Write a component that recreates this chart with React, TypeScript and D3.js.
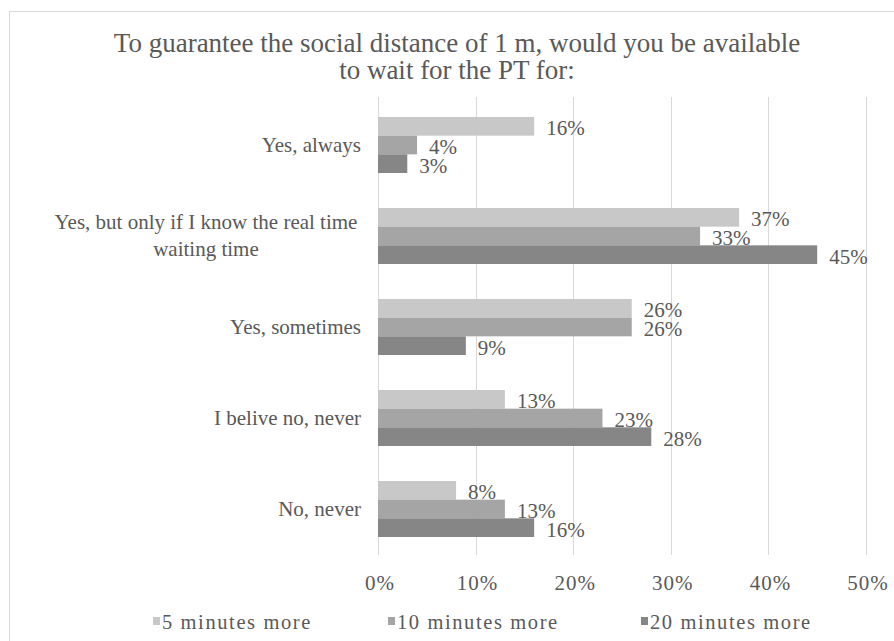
import React from "react";
import * as d3 from "d3";

// Survey answers (y categories), top to bottom
const categories = [
  "Yes, always",
  "Yes, but only if I know the real time waiting time",
  "Yes, sometimes",
  "I belive no, never",
  "No, never",
];

// Series: extra waiting time
const seriesNames = ["5 minutes more", "10 minutes more", "20 minutes more"];
const fiveMinutes = [16, 37, 26, 13, 8];
const tenMinutes = [4, 33, 26, 23, 13];
const twentyMinutes = [3, 45, 9, 28, 16];

const xTicks = [0, 10, 20, 30, 40, 50];

const titleLines = [
  "To guarantee the social distance of 1 m, would you be available",
  "to wait for the PT for:",
];

const W = 894;
const H = 641;
const FONT = "'Liberation Serif', 'Times New Roman', Times, serif";
const TEXT = "#595959";
const GRID = "#d9d9d9";
const COLORS = ["#c8c8c8", "#a5a5a5", "#868686"];

export default function App() {
  const values = [fiveMinutes, tenMinutes, twentyMinutes];

  const x = d3.scaleLinear().domain([0, 50]).range([378, 866]);
  const y = d3
    .scaleBand<string>()
    .domain(categories)
    .range([99.5, 554.5])
    .paddingInner(0.385)
    .paddingOuter(0.1925);
  const inner = d3
    .scaleBand<string>()
    .domain(seriesNames)
    .range([0, y.bandwidth()]);

  const plotTop = 97;
  const plotBottom = 555;

  // Category labels: the long label wraps onto two centred lines
  const catLabel = (c: string, i: number) => {
    const cy = (y(c) as number) + y.bandwidth() / 2;
    if (c.length > 30) {
      const lines = ["Yes, but only if I know the real time", "waiting time"];
      return (
        <g key={i} textAnchor="middle">
          {lines.map((l, li) => (
            <text key={li} x={206} y={cy - 7 + li * 27}>
              {l}
            </text>
          ))}
        </g>
      );
    }
    return (
      <text key={i} x={361} y={cy} dy="0.32em" textAnchor="end">
        {c}
      </text>
    );
  };

  const legendX = [153, 388, 641];

  return (
    <svg
      width={W}
      height={H}
      style={{ position: "absolute", left: 0, top: 0, background: "#fff" }}
    >
      <g style={{ fontFamily: FONT }}>
        <rect x={0} y={0} width={W} height={H} fill="#fff" />
        <rect
          x={9.5}
          y={11.5}
          width={W + 20}
          height={H + 20}
          fill="none"
          stroke={GRID}
          strokeWidth={1}
        />

        {/* title */}
        <g fill={TEXT} fontSize={27} textAnchor="middle">
          {titleLines.map((t, i) => (
            <text key={i} x={457} y={52 + i * 27}>
              {t}
            </text>
          ))}
        </g>

        {/* vertical gridlines */}
        <g stroke={GRID} strokeWidth={1}>
          {xTicks.map((t) => (
            <line
              key={t}
              x1={Math.round(x(t)) + 0.5}
              x2={Math.round(x(t)) + 0.5}
              y1={plotTop}
              y2={plotBottom}
            />
          ))}
        </g>

        {/* bars */}
        {seriesNames.map((s, si) => (
          <g key={s} fill={COLORS[si]}>
            {categories.map((c, ci) => (
              <rect
                key={c}
                x={x(0)}
                y={(y(c) as number) + (inner(s) as number)}
                width={x(values[si][ci]) - x(0)}
                height={inner.bandwidth()}
              />
            ))}
          </g>
        ))}

        {/* value labels */}
        <g fill={TEXT} fontSize={21}>
          {seriesNames.map((s, si) =>
            categories.map((c, ci) => (
              <text
                key={s + c}
                x={x(values[si][ci]) + 12}
                y={(y(c) as number) + (inner(s) as number) + inner.bandwidth() / 2 + 2}
                dy="0.33em"
              >
                {values[si][ci]}%
              </text>
            ))
          )}
        </g>

        {/* category labels */}
        <g fill={TEXT} fontSize={21}>
          {categories.map(catLabel)}
        </g>

        {/* x tick labels */}
        <g fill={TEXT} fontSize={21} textAnchor="middle">
          {xTicks.map((t) => (
            <text key={t} x={x(t) + 2} y={583} dy="0.33em" letterSpacing={1}>
              {t}%
            </text>
          ))}
        </g>

        {/* legend */}
        <g fontSize={20.5} fill={TEXT}>
          {seriesNames.map((s, i) => (
            <g key={s}>
              <rect x={legendX[i]} y={617} width={7} height={8} fill={COLORS[i]} />
              <text x={legendX[i] + 9} y={622} dy="0.33em" letterSpacing={1.6}>
                {s}
              </text>
            </g>
          ))}
        </g>
      </g>
    </svg>
  );
}
